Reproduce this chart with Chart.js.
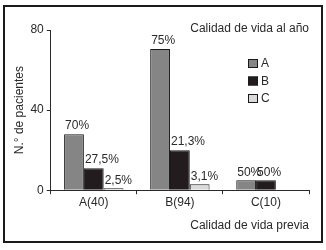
<!DOCTYPE html>
<html>
<head>
<meta charset="utf-8">
<script src="https://cdn.jsdelivr.net/npm/chart.js@4"></script>
<style>
body { margin: 0; background: #fff; }
#wrap { position: relative; width: 326px; height: 250px; }
#frame { position: absolute; left: 3px; top: 5px; width: 316px; height: 234px; border: 2px solid #1a1a1a; }
canvas { position: absolute; left: 0; top: 0; }
</style>
</head>
<body>
<div id="wrap">
  <div id="frame"></div>
  <canvas id="c" width="326" height="250"></canvas>
</div>
<script>
const categories = ['A(40)', 'B(94)', 'C(10)'];
const seriesNames = ['A', 'B', 'C'];
const valuesA = [28, 70.5, 5];
const valuesB = [11, 20, 5];
const valuesC = [1, 3, 0];
const pctA = ['70%', '75%', '50%'];
const pctB = ['27,5%', '21,3%', '50%'];
const pctC = ['2,5%', '3,1%', ''];
const yTicks = [0, 40, 80];

const ink = '#2a2a2a';
const font = { family: 'Liberation Sans, Arial, sans-serif', size: 12 };
const fills = ['#858585', '#221c1f', '#d9d9d9'];
const pctLabels = [pctA, pctB, pctC];

const extras = {
    id: 'extras',
    afterDatasetsDraw(chart) {
        const ctx = chart.ctx;
        const area = chart.chartArea;
        ctx.save();
        ctx.font = font.size + 'px ' + font.family;
        ctx.fillStyle = ink;

        // percentage labels above bars
        ctx.textAlign = 'left';
        ctx.textBaseline = 'bottom';
        chart.data.datasets.forEach((ds, i) => {
            chart.getDatasetMeta(i).data.forEach((bar, j) => {
                const txt = pctLabels[i][j];
                if (!txt) return;
                ctx.fillText(txt, bar.x - bar.width / 2 + 1, bar.y - 2);
            });
        });

        // title inside the plot
        ctx.textAlign = 'right';
        ctx.textBaseline = 'middle';
        ctx.fillText('Calidad de vida al año', area.right, area.top - 1);

        // legend
        ctx.textAlign = 'left';
        chart.data.datasets.forEach((ds, i) => {
            const x = area.right - 61;
            const y = area.top + 29 + i * 17.5;
            ctx.fillStyle = ds.backgroundColor;
            ctx.fillRect(x, y, 10, 9);
            ctx.strokeStyle = '#1a1a1a';
            ctx.lineWidth = 1;
            ctx.strokeRect(x + 0.5, y + 0.5, 9, 8);
            ctx.fillStyle = ink;
            ctx.fillText(ds.label, x + 13, y + 5);
        });
        ctx.restore();
    }
};

new Chart(document.getElementById('c'), {
    type: 'bar',
    data: {
        labels: categories,
        datasets: [valuesA, valuesB, valuesC].map((vals, i) => ({
            label: seriesNames[i],
            data: vals,
            backgroundColor: fills[i],
            borderColor: '#1a1a1a',
            borderWidth: 1,
            categoryPercentage: 0.69,
            barPercentage: 1.0
        }))
    },
    options: {
        responsive: false,
        animation: false,
        layout: { padding: { left: 12, top: 30, right: 17, bottom: 17 } },
        plugins: {
            legend: { display: false },
            tooltip: { enabled: false }
        },
        scales: {
            x: {
                grid: { drawOnChartArea: false, drawTicks: true, tickLength: 4, color: ink, offset: true },
                border: { color: ink, width: 1 },
                ticks: { color: ink, font: font, padding: 1 },
                title: { display: true, text: 'Calidad de vida previa', align: 'end', color: ink, font: font, padding: { top: 8, bottom: 0 } }
            },
            y: {
                min: 0,
                max: 80,
                afterBuildTicks(scale) { scale.ticks = yTicks.map(v => ({ value: v })); },
                grid: { drawOnChartArea: false, drawTicks: true, tickLength: 4, color: ink },
                border: { color: ink, width: 1 },
                ticks: { color: ink, font: font, padding: 3 },
                title: { display: true, text: 'N.° de pacientes', color: ink, font: font, padding: { top: 0, bottom: 1 } }
            }
        }
    },
    plugins: [extras]
});
</script>
</body>
</html>
